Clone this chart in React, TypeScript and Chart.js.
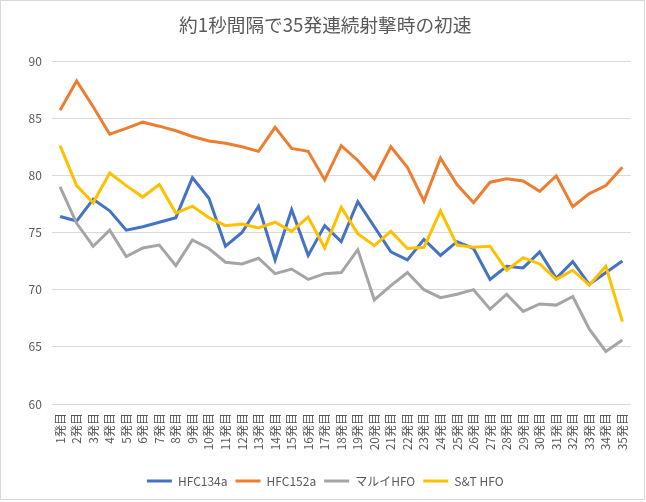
import React, { useEffect, useRef } from "react";
import { Chart, registerables } from "chart.js";

Chart.register(...registerables);

const categories = [
  "1発目", "2発目", "3発目", "4発目", "5発目", "6発目", "7発目", "8発目", "9発目", "10発目",
  "11発目", "12発目", "13発目", "14発目", "15発目", "16発目", "17発目", "18発目", "19発目", "20発目",
  "21発目", "22発目", "23発目", "24発目", "25発目", "26発目", "27発目", "28発目", "29発目", "30発目",
  "31発目", "32発目", "33発目", "34発目", "35発目",
];

const hfc134a = [
  76.4, 76.0, 77.9, 76.9, 75.2, 75.5, 75.9, 76.3, 79.8, 78.0,
  73.8, 75.0, 77.3, 72.6, 77.0, 73.0, 75.6, 74.2, 77.7, 75.5,
  73.3, 72.6, 74.4, 73.0, 74.2, 73.6, 70.9, 72.05, 71.9, 73.3,
  71.0, 72.45, 70.45, 71.5, 72.5,
];

const hfc152a = [
  85.7, 88.25, 86.0, 83.6, 84.1, 84.65, 84.3, 83.9, 83.4, 83.0,
  82.8, 82.5, 82.1, 84.2, 82.35, 82.1, 79.6, 82.6, 81.3, 79.7,
  82.5, 80.7, 77.75, 81.5, 79.2, 77.6, 79.4, 79.7, 79.5, 78.6,
  79.95, 77.25, 78.4, 79.1, 80.7,
];

const maruiHfo = [
  79.0, 75.8, 73.8, 75.2, 72.9, 73.65, 73.9, 72.1, 74.35, 73.6,
  72.4, 72.25, 72.75, 71.4, 71.8, 70.9, 71.4, 71.5, 73.5, 69.1,
  70.35, 71.5, 70.0, 69.3, 69.6, 70.0, 68.3, 69.6, 68.1, 68.75,
  68.65, 69.4, 66.55, 64.6, 65.6,
];

const stHfo = [
  82.6, 79.1, 77.6, 80.2, 79.1, 78.1, 79.2, 76.7, 77.3, 76.3,
  75.6, 75.75, 75.4, 75.9, 75.1, 76.35, 73.65, 77.2, 74.9, 73.85,
  75.1, 73.6, 73.7, 76.9, 73.9, 73.7, 73.8, 71.7, 72.8, 72.25,
  70.9, 71.7, 70.4, 72.05, 67.2,
];

const seriesNames = ["HFC134a", "HFC152a", "マルイHFO", "S&T HFO"];
const seriesColors = ["#4472C4", "#ED7D31", "#A5A5A5", "#FFC000"];
const titleText = "約1秒間隔で35発連続射撃時の初速";

const FONT = "'Noto Sans CJK JP', 'Noto Sans', sans-serif";
const TEXT_COLOR = "#595959";

const frame = {
  id: "frame",
  beforeDraw(chart: any) {
    const ctx = chart.ctx;
    ctx.save();
    ctx.fillStyle = "#ffffff";
    ctx.fillRect(0, 0, chart.width, chart.height);
    ctx.strokeStyle = "#D9D9D9";
    ctx.lineWidth = 1;
    ctx.strokeRect(0.5, 0.5, 644, 499);
    ctx.restore();
  },
};

export default function App() {
  const ref = useRef<HTMLCanvasElement | null>(null);

  useEffect(() => {
    if (!ref.current) return;
    const all = [hfc134a, hfc152a, maruiHfo, stHfo];
    const chart = new Chart(ref.current, {
      type: "line",
      data: {
        labels: categories,
        datasets: all.map((d, i) => ({
          label: seriesNames[i],
          data: d,
          borderColor: seriesColors[i],
          backgroundColor: seriesColors[i],
          borderWidth: 3,
          pointRadius: 0,
          tension: 0,
          fill: false,
          order: 3 - i,
        })),
      },
      options: {
        responsive: false,
        animation: false,
        devicePixelRatio: 1,
        layout: { padding: { left: 18.5, right: 14, top: 0, bottom: 5 } },
        plugins: {
          tooltip: { enabled: false },
          title: {
            display: true,
            text: titleText,
            color: TEXT_COLOR,
            font: { family: FONT, size: 18.67, weight: "normal" },
            padding: { top: 14, bottom: 24.6 },
          },
          legend: {
            position: "bottom",
            labels: {
              color: TEXT_COLOR,
              font: { family: FONT, size: 12 },
              boxWidth: 25,
              boxHeight: 3,
              padding: 8,
              sort: (a: any, b: any) => a.datasetIndex - b.datasetIndex,
              generateLabels: (c: any) =>
                Chart.defaults.plugins.legend.labels
                  .generateLabels(c)
                  .map((l: any) => ({ ...l, lineWidth: 0 })),
            },
          },
        },
        scales: {
          x: {
            offset: true,
            grid: { display: false, drawTicks: false },
            border: { display: false },
            ticks: {
              color: TEXT_COLOR,
              font: { family: FONT, size: 12 },
              minRotation: 90,
              maxRotation: 90,
              autoSkip: false,
              padding: 9,
            },
            afterFit: (s: any) => {
              s.height = 63;
            },
          },
          y: {
            min: 60,
            max: 90,
            grid: { color: "#D9D9D9", lineWidth: 1, drawTicks: false },
            border: { display: false },
            ticks: {
              stepSize: 5,
              color: TEXT_COLOR,
              font: { family: FONT, size: 12 },
              padding: 10,
            },
          },
        },
      },
      plugins: [frame],
    });
    return () => chart.destroy();
  }, []);

  return (
    <div style={{ position: "fixed", left: 0, top: 0, width: 646, height: 502 }}>
      <canvas ref={ref} width={646} height={502} />
    </div>
  );
}
